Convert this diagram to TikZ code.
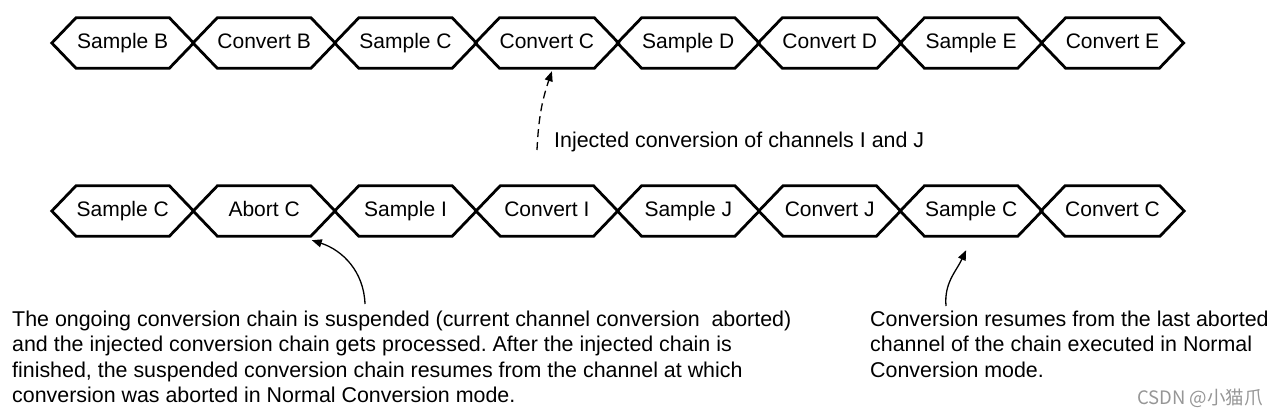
\documentclass[tikz,border=0pt]{standalone}
\usepackage{fontspec}
\setmainfont{Liberation Sans}
\newfontfamily\cjkfont{Noto Sans CJK SC}
\usetikzlibrary{calc,arrows.meta}
\definecolor{wm}{RGB}{150,150,150}
\frenchspacing
\tikzset{
  hexbox/.style={minimum width=93pt, minimum height=50pt, inner sep=0pt, text height=15pt, text depth=4pt, font=\fontsize{21}{25}\selectfont},
  hexline/.style={line width=2.8pt, line join=miter},
  note/.style={font=\fontsize{21.4}{25.2}\selectfont, inner sep=0pt, align=left},
  callout/.style={line width=1.3pt, -{Triangle[length=10pt,width=8pt]}},
}
\begin{document}
\begin{tikzpicture}[x=1pt,y=-1pt]
\useasboundingbox (0,0) rectangle (1277,415);
% top row
\foreach \i/\t in {0/Sample B,1/Convert B,2/Sample C,3/Convert C,4/Sample D,5/Convert D,6/Sample E,7/Convert E}{
  \node[hexbox] (t\i) at ({52+70.7+141.4*\i},43) {\t};
  \draw[hexline] (t\i.north west) -- (t\i.north east) -- ($(t\i.east)+(24.2,0)$) -- (t\i.south east) -- (t\i.south west) -- ($(t\i.west)+(-24.2,0)$) -- cycle;
}
% bottom row
\foreach \i/\t in {0/Sample C,1/Abort C,2/Sample I,3/Convert I,4/Sample J,5/Convert J,6/Sample C,7/Convert C}{
  \node[hexbox] (b\i) at ({52+70.7+141.4*\i},211) {\t};
  \draw[hexline] (b\i.north west) -- (b\i.north east) -- ($(b\i.east)+(24.2,0)$) -- (b\i.south east) -- (b\i.south west) -- ($(b\i.west)+(-24.2,0)$) -- cycle;
}
% injected label and dashed arrow
\node[note, anchor=base west] (inj) at (554,147.5) {Injected conversion of channels I and J};
\coordinate (a1) at (537,150);
\draw[callout, dash pattern=on 8pt off 5pt] (a1) to[bend left=8] ($(t3.south)+(5,3)$);
% left note
\node[note, anchor=north west] (left) at (12,311) {The ongoing conversion chain is suspended (current channel conversion\ \ aborted)\\and the injected conversion chain gets processed. After the injected chain is\\finished, the suspended conversion chain resumes from the channel at which\\conversion was aborted in Normal Conversion mode.};
\coordinate (a2) at (365,304);
\draw[callout] (a2) to[out=92,in=-18] ($(b1.south east)+(1,4)$);
% right note
\node[note, anchor=north west] (right) at (870,311) {Conversion resumes from the last aborted\\channel of the chain executed in Normal\\Conversion mode.};
\coordinate (a3) at (946,306);
\draw[callout] (a3) to[out=95,in=245] ($(b6.south)+(-5,14)$);
% watermark
\node[font=\cjkfont\fontsize{18.5}{20}\selectfont, text=wm, anchor=east, inner sep=0pt] (wmk) at (1263,398) {CSDN @小猫爪};
\end{tikzpicture}
\end{document}
